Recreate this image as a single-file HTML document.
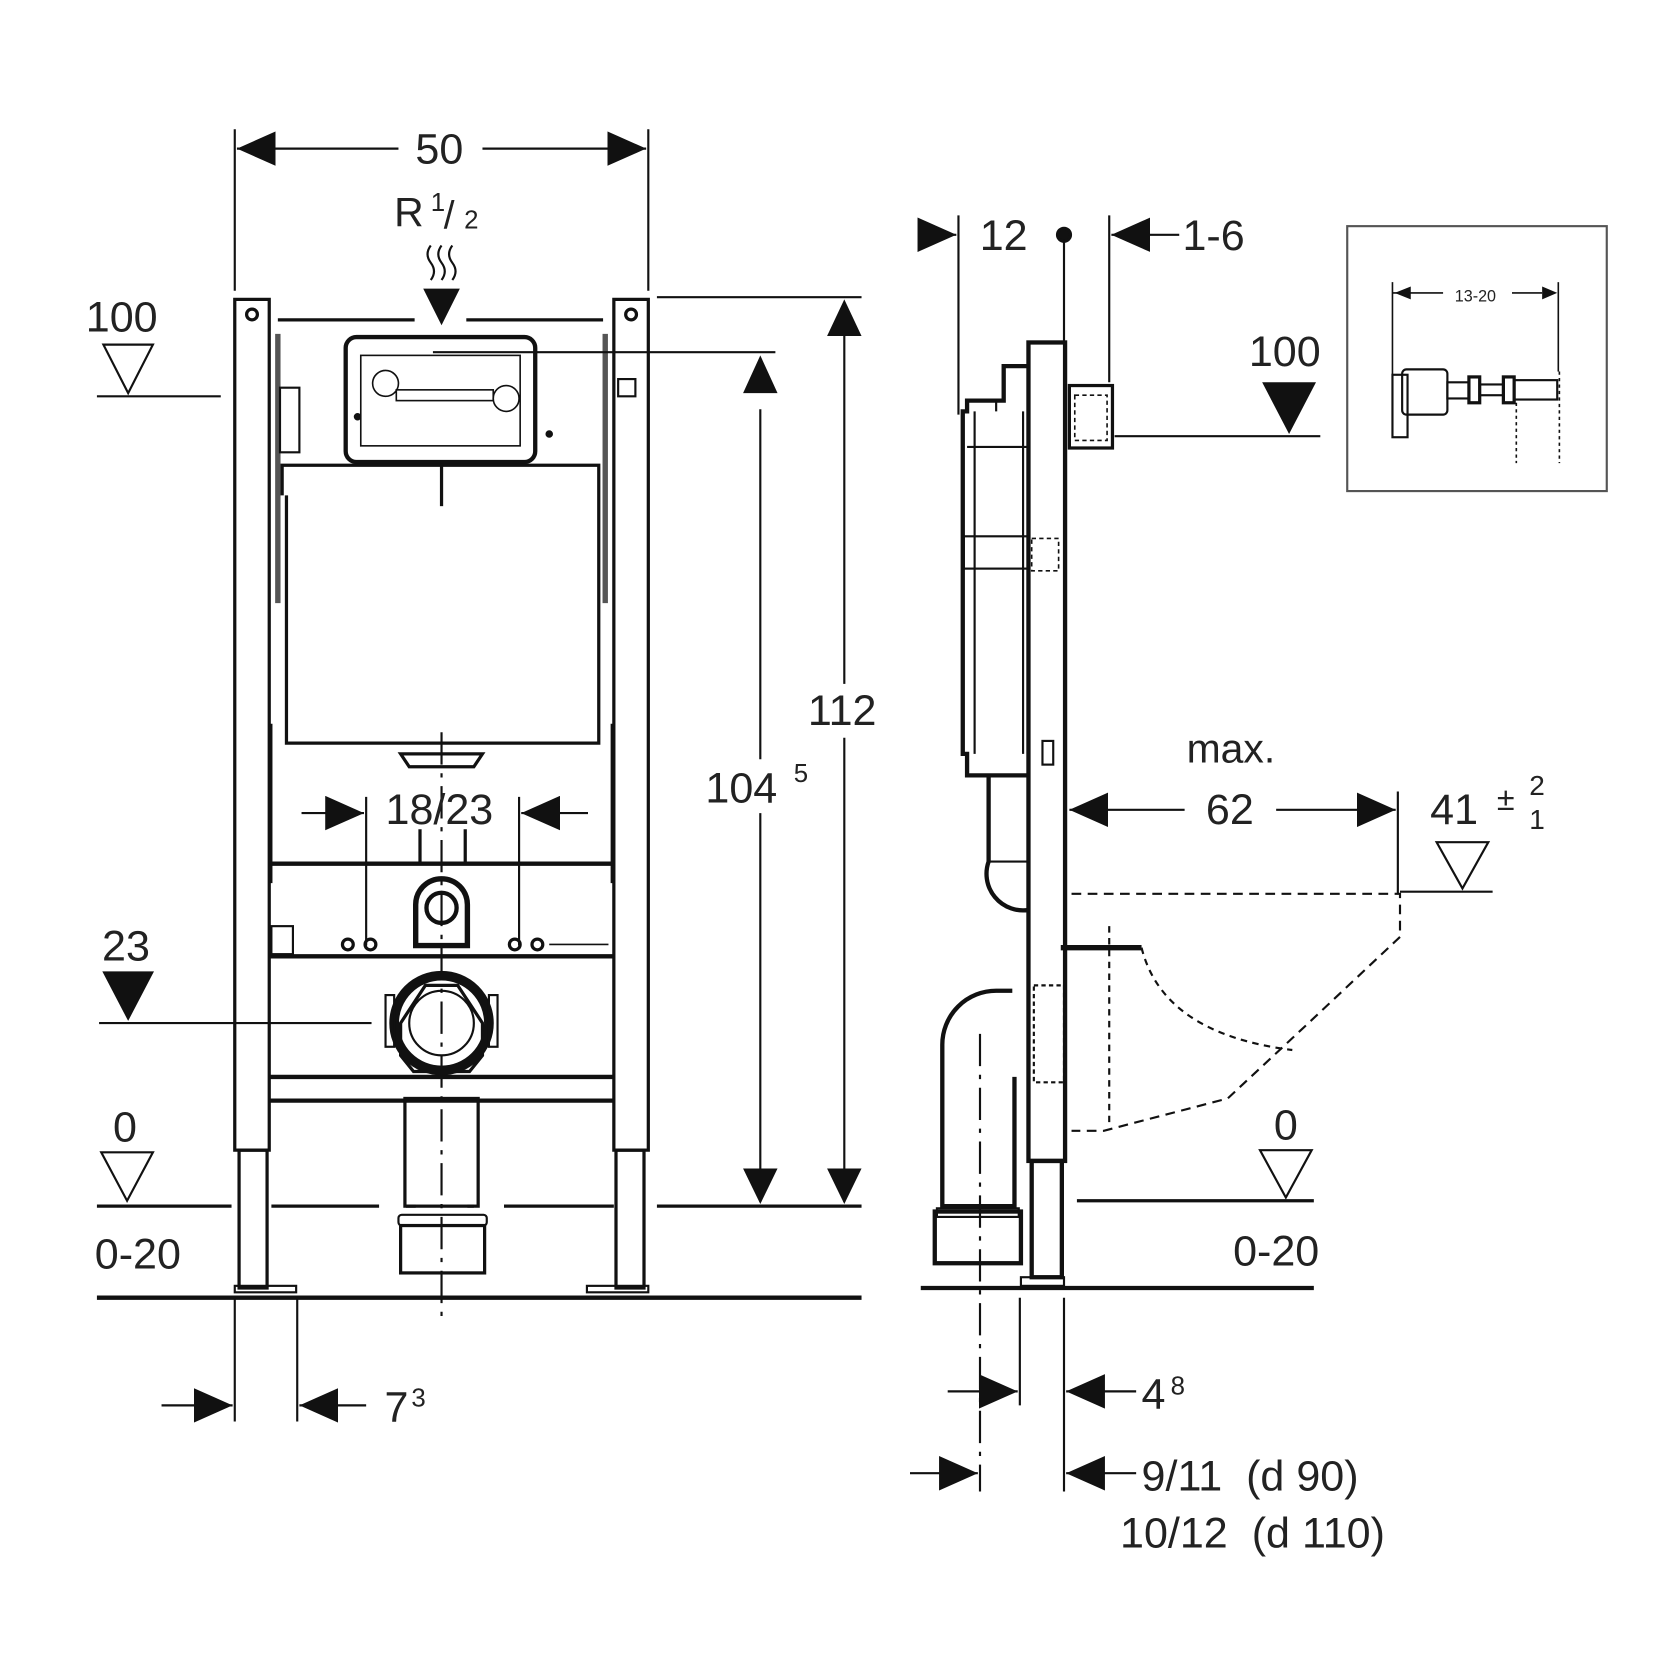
<!DOCTYPE html>
<html><head><meta charset="utf-8"><style>
html,body{margin:0;padding:0;background:#fff}
svg{display:block}
text{font-family:"Liberation Sans",sans-serif;fill:#222}
</style></head><body>
<svg width="1680" height="1680" viewBox="0 0 1560 1560" xmlns="http://www.w3.org/2000/svg">
<defs>
<marker id="a" viewBox="0 0 36 32" refX="36" refY="16" markerWidth="36" markerHeight="32" markerUnits="userSpaceOnUse" orient="auto"><path d="M0 0L36 16L0 32Z" fill="#111"/></marker>
</defs>
<g stroke="#111" fill="none" stroke-width="3">
<line x1="218" y1="120" x2="218" y2="270" stroke-width="2"/>
<line x1="602" y1="120" x2="602" y2="270" stroke-width="2"/>
<line x1="370" y1="138" x2="220" y2="138" marker-end="url(#a)" stroke-width="2"/>
<line x1="448" y1="138" x2="600" y2="138" marker-end="url(#a)" stroke-width="2"/>
<path d="M400 228q-6 8 0 16q6 8 0 16M410 228q-6 8 0 16q6 8 0 16M420 228q-6 8 0 16q6 8 0 16" stroke-width="2"/>
<path d="M393 268L427 268L410 302Z" fill="#111" stroke="none"/>
<rect x="218" y="278" width="32" height="790"/>
<rect x="570" y="278" width="32" height="790"/>
<rect x="222" y="1068" width="26" height="128"/>
<rect x="572" y="1068" width="26" height="128"/>
<rect x="218" y="1194" width="57" height="6" stroke-width="2"/>
<rect x="545" y="1194" width="57" height="6" stroke-width="2"/>
<circle cx="234" cy="292" r="5"/><circle cx="586" cy="292" r="5"/>
<line x1="258" y1="297" x2="385" y2="297" stroke-width="3"/>
<line x1="433" y1="297" x2="560" y2="297" stroke-width="3"/>
<line x1="258" y1="310" x2="258" y2="560" stroke-width="5" stroke="#555"/>
<line x1="562" y1="310" x2="562" y2="560" stroke-width="5" stroke="#555"/>
<rect x="260" y="360" width="18" height="60" stroke-width="2"/>
<rect x="574" y="352" width="16" height="16" stroke-width="2"/>
<rect x="321" y="313" width="176" height="116" rx="10" stroke-width="4"/>
<rect x="335" y="330" width="148" height="84" stroke-width="1.5"/>
<circle cx="358" cy="356" r="12" stroke-width="1.5"/><circle cx="470" cy="370" r="12" stroke-width="1.5"/>
<rect x="368" y="362" width="90" height="10" stroke-width="1.5"/>
<line x1="402" y1="327" x2="720" y2="327" stroke-width="2"/>
<circle cx="332" cy="387" r="2" fill="#111"/><circle cx="510" cy="403" r="2" fill="#111"/>
<path d="M262 460L262 432L556 432L556 690L266 690L266 460" stroke-width="3"/>
<line x1="410" y1="432" x2="410" y2="470" stroke-width="3"/>
<path d="M252 672L252 820M568 672L568 820" stroke-width="2"/>
<path d="M372 700L448 700L440 712L380 712Z" stroke-width="3"/>
<line x1="410" y1="680" x2="410" y2="1230" stroke-width="2" stroke-dasharray="30 8 4 8"/>
<path d="M390 770V800M432 770V800" stroke-width="3"/>
<line x1="250" y1="802" x2="570" y2="802" stroke-width="4"/>
<line x1="250" y1="888" x2="570" y2="888" stroke-width="4"/>
<line x1="250" y1="1000" x2="570" y2="1000" stroke-width="4"/>
<line x1="250" y1="1022" x2="570" y2="1022" stroke-width="4"/>
<rect x="252" y="860" width="20" height="26" stroke-width="2"/>
<circle cx="323" cy="877" r="5" stroke-width="3"/><circle cx="344" cy="877" r="5" stroke-width="3"/>
<circle cx="478" cy="877" r="5" stroke-width="3"/><circle cx="499" cy="877" r="5" stroke-width="3"/>
<line x1="510" y1="877" x2="565" y2="877" stroke-width="1.5"/>
<path d="M386 878V840a24 24 0 0 1 48 0V878Z" stroke-width="5"/>
<circle cx="410" cy="843" r="14" stroke-width="4"/>
<path d="M384 995L372 980V950L395 915H425L448 950V980L436 995Z" stroke-width="3"/>
<circle cx="410" cy="950" r="44" stroke-width="9"/>
<circle cx="410" cy="950" r="30" stroke-width="2"/>
<rect x="358" y="924" width="8" height="48" stroke-width="2"/><rect x="454" y="924" width="8" height="48" stroke-width="2"/>
<rect x="376" y="1020" width="68" height="100" stroke-width="3"/>
<rect x="370" y="1128" width="82" height="10" rx="3" stroke-width="2"/>
<rect x="372" y="1138" width="78" height="44" stroke-width="3"/>
<line x1="280" y1="755" x2="338" y2="755" marker-end="url(#a)" stroke-width="2"/>
<line x1="546" y1="755" x2="484" y2="755" marker-end="url(#a)" stroke-width="2"/>
<line x1="340" y1="740" x2="340" y2="878" stroke-width="2"/>
<line x1="482" y1="740" x2="482" y2="878" stroke-width="2"/>
<path d="M96 320L142 320L119 365Z" stroke-width="2"/>
<line x1="90" y1="368" x2="205" y2="368" stroke-width="2"/>
<path d="M95 902L143 902L119 948Z" fill="#111" stroke="none"/>
<line x1="92" y1="950" x2="345" y2="950" stroke-width="2"/>
<path d="M94 1070L142 1070L118 1115Z" stroke-width="2"/>
<path d="M90 1120H215M252 1120H352M377 1120H386M434 1120H440M468 1120H570M610 1120H800" stroke-width="3"/>
<line x1="90" y1="1205" x2="800" y2="1205" stroke-width="4"/>
<path d="M706 380V705M706 755V1116" stroke-width="2"/>
<path d="M690 365L722 365L706 330Z" fill="#111" stroke="none"/>
<path d="M690 1085L722 1085L706 1118Z" fill="#111" stroke="none"/>
<path d="M784 300V635M784 685V1116" stroke-width="2"/>
<path d="M768 312L800 312L784 278Z" fill="#111" stroke="none"/>
<path d="M768 1085L800 1085L784 1118Z" fill="#111" stroke="none"/>
<line x1="610" y1="276" x2="800" y2="276" stroke-width="2"/>
<line x1="218" y1="1205" x2="218" y2="1320" stroke-width="2"/>
<line x1="276" y1="1205" x2="276" y2="1320" stroke-width="2"/>
<line x1="150" y1="1305" x2="216" y2="1305" marker-end="url(#a)" stroke-width="2"/>
<line x1="340" y1="1305" x2="278" y2="1305" marker-end="url(#a)" stroke-width="2"/>

<line x1="890" y1="200" x2="890" y2="385" stroke-width="2"/>
<line x1="1030" y1="200" x2="1030" y2="355" stroke-width="2"/>
<line x1="988" y1="218" x2="988" y2="318" stroke-width="2"/>
<circle cx="988" cy="218" r="6" fill="#111"/>
<line x1="855" y1="218" x2="888" y2="218" marker-end="url(#a)" stroke-width="2"/>
<line x1="1095" y1="218" x2="1032" y2="218" marker-end="url(#a)" stroke-width="2"/>
<rect x="955" y="318" width="34" height="760" stroke-width="4"/>
<rect x="958" y="1078" width="28" height="108" stroke-width="4"/>
<rect x="948" y="1186" width="40" height="8" stroke-width="2"/>
<rect x="993" y="358" width="40" height="58" stroke-width="3"/>
<rect x="998" y="367" width="30" height="42" stroke-width="1.5" stroke-dasharray="4 3"/>
<line x1="1035" y1="405" x2="1226" y2="405" stroke-width="2"/>
<path d="M955 340H932V372H898V382H894V700H898V720H955" stroke-width="4"/>
<path d="M905 382V700M950 382V700M925 372V382" stroke-width="2"/>
<line x1="898" y1="415" x2="955" y2="415" stroke-width="2"/>
<rect x="895" y="498" width="60" height="30" stroke-width="2"/>
<rect x="968" y="688" width="10" height="22" stroke-width="2"/>
<path d="M918 722V800a34 34 0 0 0 37 45" stroke-width="4"/>
<path d="M918 800H955" stroke-width="2"/>
<rect x="958" y="500" width="25" height="30" stroke-width="1.5" stroke-dasharray="4 3"/>
<path d="M940 920H925a50 50 0 0 0-50 50V1120H942V1000" stroke-width="4"/>
<rect x="868" y="1125" width="80" height="48" stroke-width="4"/>
<rect x="870" y="1122" width="76" height="8" stroke-width="2"/>
<rect x="960" y="915" width="28" height="90" stroke-width="2" stroke-dasharray="4 3"/>
<line x1="910" y1="960" x2="910" y2="1385" stroke-width="2" stroke-dasharray="30 8 4 8"/>
<line x1="985" y1="880" x2="1060" y2="880" stroke-width="5"/>
<path d="M995 830H1300L1300 870L1215 950L1140 1020L1025 1050H995" stroke-width="2" stroke-dasharray="9 6"/>
<path d="M1030 860V1045M1060 880Q1080 960 1200 975" stroke-width="2" stroke-dasharray="6 5"/>
<line x1="1100" y1="752" x2="993" y2="752" marker-end="url(#a)" stroke-width="2"/>
<line x1="1185" y1="752" x2="1296" y2="752" marker-end="url(#a)" stroke-width="2"/>
<line x1="1298" y1="735" x2="1298" y2="830" stroke-width="2"/>
<path d="M1334 782L1382 782L1358 825Z" stroke-width="2"/>
<line x1="1300" y1="828" x2="1386" y2="828" stroke-width="2"/>
<path d="M1172 355L1222 355L1197 403Z" fill="#111" stroke="none"/>
<path d="M1170 1068L1218 1068L1194 1112Z" stroke-width="2"/>
<line x1="1000" y1="1115" x2="1220" y2="1115" stroke-width="3"/>
<line x1="855" y1="1196" x2="1220" y2="1196" stroke-width="4"/>
<line x1="947" y1="1205" x2="947" y2="1305" stroke-width="2"/>
<line x1="988" y1="1205" x2="988" y2="1385" stroke-width="2"/>
<line x1="880" y1="1292" x2="945" y2="1292" marker-end="url(#a)" stroke-width="2"/>
<line x1="1055" y1="1292" x2="990" y2="1292" marker-end="url(#a)" stroke-width="2"/>
<line x1="845" y1="1368" x2="908" y2="1368" marker-end="url(#a)" stroke-width="2"/>
<line x1="1055" y1="1368" x2="990" y2="1368" marker-end="url(#a)" stroke-width="2"/>
<rect x="1251" y="210" width="241" height="246" stroke="#555" stroke-width="2"/>
<line x1="1293" y1="262" x2="1293" y2="406" stroke-width="1.5"/>
<line x1="1447" y1="262" x2="1447" y2="345" stroke-width="1.5"/>
<path d="M1293 272H1340" stroke-width="1.5"/>
<path d="M1310 266V278L1295 272Z M1432 266V278L1446 272Z" fill="#111" stroke="none"/>
<path d="M1404 272H1432" stroke-width="1.5"/>
<rect x="1293" y="348" width="14" height="58" stroke-width="2"/>
<rect x="1302" y="343" width="42" height="42" rx="4" stroke-width="2"/>
<rect x="1344" y="355" width="20" height="15" stroke-width="2"/>
<rect x="1364" y="350" width="10" height="24" stroke-width="3"/>
<rect x="1374" y="357" width="22" height="10" stroke-width="2"/>
<rect x="1396" y="350" width="10" height="24" stroke-width="3"/>
<rect x="1406" y="353" width="40" height="18" stroke-width="2"/>
<path d="M1408 374V430M1448 345V430" stroke-width="1.5" stroke-dasharray="3 3"/>
</g>
<g font-size="40">
<text x="408" y="152" text-anchor="middle">50</text>
<text x="366" y="210" font-size="38">R</text>
<text x="400" y="196" font-size="24">1</text>
<text x="412" y="212" font-size="36">/</text>
<text x="431" y="212" font-size="24">2</text>
<text x="113" y="308" text-anchor="middle">100</text>
<text x="117" y="892" text-anchor="middle">23</text>
<text x="116" y="1060" text-anchor="middle">0</text>
<text x="88" y="1178">0-20</text>
<text x="408" y="765" text-anchor="middle">18/23</text>
<text x="655" y="745">104</text>
<text x="737" y="726" font-size="24">5</text>
<text x="782" y="673" text-anchor="middle">112</text>
<text x="357" y="1320">7</text>
<text x="382" y="1306" font-size="24">3</text>
<text x="932" y="232" text-anchor="middle">12</text>
<text x="1098" y="232">1-6</text>
<text x="1193" y="340" text-anchor="middle">100</text>
<text x="1143" y="708" text-anchor="middle" font-size="38">max.</text>
<text x="1142" y="765" text-anchor="middle">62</text>
<text x="1328" y="765">41</text>
<text x="1390" y="752" font-size="30">±</text>
<text x="1420" y="738" font-size="26">2</text>
<text x="1420" y="770" font-size="26">1</text>
<text x="1194" y="1058" text-anchor="middle">0</text>
<text x="1145" y="1175">0-20</text>
<text x="1060" y="1308">4</text>
<text x="1087" y="1295" font-size="24">8</text>
<text x="1060" y="1384">9/11&#160;&#160;(d 90)</text>
<text x="1040" y="1437">10/12&#160;&#160;(d 110)</text>
<text x="1370" y="280" font-size="15" text-anchor="middle">13-20</text>
</g>
</svg>
</body></html>
